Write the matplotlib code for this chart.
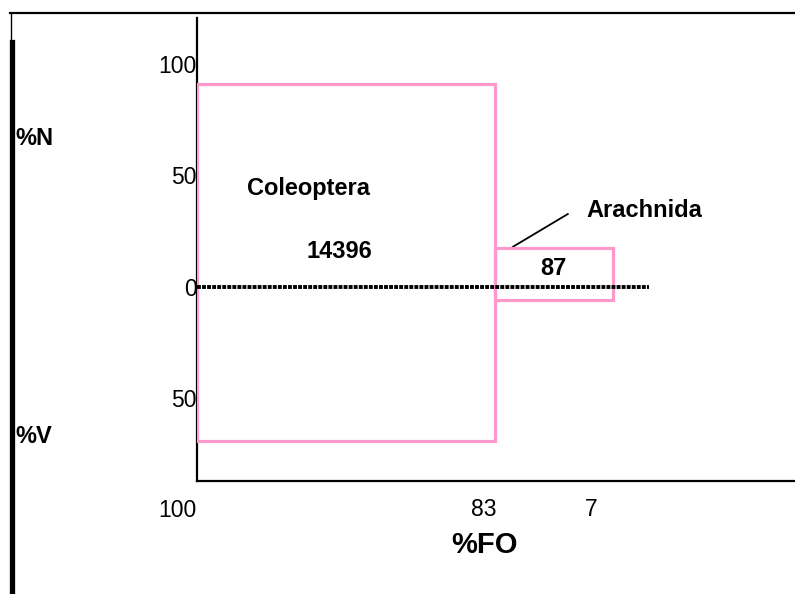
import matplotlib
matplotlib.use("Agg")
from matplotlib import pyplot as plt
from matplotlib.patches import Rectangle
from matplotlib.lines import Line2D

plt.rcParams['font.family'] = ['Liberation Sans', 'DejaVu Sans']

# prey categories (Costello-type diagram)
prey = ["Coleoptera", "Arachnida"]
counts = ["14396", "87"]
fo_labels = ["83", "7"]       # %FO printed under the x axis
box_width = [83, 33]          # drawn width of each box
pct_n = [91, 17.5]            # %N (up)
pct_v = [69, 5.8]             # %V (down)

pink = '#FF99CC'

fig = plt.figure(figsize=(7.95, 5.94), dpi=100)
ax = fig.add_axes([197/795, 1-481/594, 598/795, 463/594])
ax.set_xlim(0, 166.6)
ax.set_ylim(-87, 120.6)

for s in ['top', 'right']:
    ax.spines[s].set_visible(False)
for s in ['left', 'bottom']:
    ax.spines[s].set_linewidth(1.6)
    ax.spines[s].set_color('black')

ax.set_yticks([100, 50, 0, -50])
ax.set_yticklabels(["100", "50", "0", "50"], fontsize=16.5)
ax.tick_params(axis='y', length=0, pad=0)
ax.set_xticks([])

# boxes
x0 = 0
for w, n, v in zip(box_width, pct_n, pct_v):
    ax.add_patch(Rectangle((x0, -v), w, n + v, fill=False, edgecolor=pink, lw=2.3, zorder=3))
    x0 += w

# dotted zero line
ax.plot([0, 126], [0, 0], color='black', lw=2.8, linestyle=(0, (1.0, 0.3)), zorder=4)

# labels inside
ax.text(31.2, 41.3, prey[0], fontsize=17, fontweight='bold', ha='center', va='baseline')
ax.text(39.8, 13.0, counts[0], fontsize=17, fontweight='bold', ha='center', va='baseline')
ax.text(99.2, 5.4, counts[1], fontsize=17, fontweight='bold', ha='center', va='baseline')
ax.text(124.5, 31.4, prey[1], fontsize=17, fontweight='bold', ha='center', va='baseline')
ax.plot([88, 103.3], [18, 32.7], color='black', lw=1.3, clip_on=False)

# x "tick" labels
xtrans = ax.get_xaxis_transform()
ax.text(0, -36/463, "100", fontsize=16.5, ha='right', va='baseline', transform=xtrans)
ax.text(box_width[0] + 0.5, -35/463, fo_labels[0], fontsize=16.5, ha='right', va='baseline', transform=xtrans)
ax.text(111.5, -35/463, fo_labels[1], fontsize=16.5, ha='right', va='baseline', transform=xtrans)

fig.text(485/795, 1-553/594, "%FO", fontsize=21, fontweight='bold', ha='center', va='baseline')
fig.text(15/795, 1-145/594, "%N", fontsize=17, fontweight='bold', ha='left', va='baseline')
fig.text(15/795, 1-443/594, "%V", fontsize=17, fontweight='bold', ha='left', va='baseline')

# frame lines at the top and left
fig.add_artist(Line2D([10/795, 1], [1-12.5/594, 1-12.5/594], color='black', lw=1.6))
fig.add_artist(Line2D([11/795, 11/795], [1-12.5/594, 1-42/594], color='black', lw=1.0))
fig.add_artist(Line2D([11.5/795, 11.5/795], [1-42/594, 0], color='black', lw=3.8))

fig.savefig("out.png", dpi=100)
